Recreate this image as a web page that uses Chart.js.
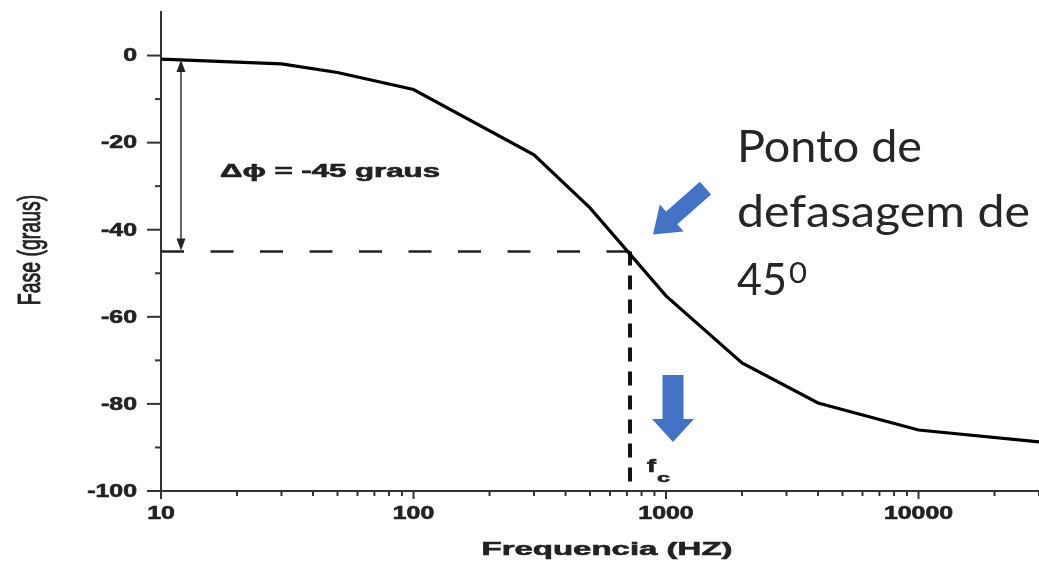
<!DOCTYPE html>
<html>
<head>
<meta charset="utf-8">
<script src="https://cdn.jsdelivr.net/npm/chart.js@4"></script>
<style>
  html, body { margin: 0; padding: 0; background: #fff; }
  canvas { display: block; }
</style>
</head>
<body>
<canvas id="phaseChart" width="1039" height="563"></canvas>
<script>
// phase response
var freqHz   = [10, 30, 50, 100, 300, 500, 1000, 2000, 4000, 10000, 30000];
var phaseDeg = [-0.8, -1.9, -3.9, -7.8, -22.8, -35, -55.2, -70.6, -79.8, -86, -88.7];

var cutoffHz = 720;
var cutoffPhase = -45;

var yTickLabels = [0, -20, -40, -60, -80, -100];
var xTickLabels = [10, 100, 1000, 10000];

var curvePoints = freqHz.map(function (f, i) { return { x: f, y: phaseDeg[i] }; });

// the original picture is stretched sideways, so text gets a horizontal scale
function stretchedText(ctx, text, x, y, font, sx, align, baseline, heavy) {
    ctx.save();
    ctx.font = font;
    ctx.textAlign = align || 'left';
    ctx.textBaseline = baseline || 'alphabetic';
    ctx.translate(x, y);
    ctx.scale(sx, 1);
    ctx.fillText(text, 0, 0);
    if (heavy) {
        ctx.strokeStyle = ctx.fillStyle;
        ctx.lineWidth = heavy;
        ctx.strokeText(text, 0, 0);
    }
    ctx.restore();
}

function fitText(ctx, text, x, y, font, width, align, baseline, heavy) {
    ctx.save();
    ctx.font = font;
    var w = ctx.measureText(text).width;
    ctx.restore();
    stretchedText(ctx, text, x, y, font, width / w, align, baseline, heavy);
}

function blockArrow(ctx, tipX, tipY, angle, len, shaftW, headW, headL) {
    ctx.save();
    ctx.translate(tipX, tipY);
    ctx.rotate(angle);
    ctx.beginPath();
    ctx.moveTo(0, 0);
    ctx.lineTo(-headL, -headW / 2);
    ctx.lineTo(-headL, -shaftW / 2);
    ctx.lineTo(-len, -shaftW / 2);
    ctx.lineTo(-len, shaftW / 2);
    ctx.lineTo(-headL, shaftW / 2);
    ctx.lineTo(-headL, headW / 2);
    ctx.closePath();
    ctx.fillStyle = '#4472c4';
    ctx.fill();
    ctx.restore();
}

var tickFont = 'bold 17.5px "Liberation Sans", Arial, sans-serif';

var overlay = {
    id: 'overlay',
    afterDraw: function (chart) {
        var ctx = chart.ctx;
        var xs = chart.scales.x, ys = chart.scales.y;
        var area = chart.chartArea;
        ctx.save();
        ctx.strokeStyle = '#333';
        ctx.fillStyle = '#222';
        ctx.lineWidth = 2;

        // y ticks and labels
        ys.ticks.forEach(function (t) {
            if (t.value >= ys.max) return;
            var py = ys.getPixelForValue(t.value);
            var major = yTickLabels.indexOf(t.value) >= 0;
            ctx.beginPath();
            ctx.moveTo(area.left - (major ? 14 : 6), py);
            ctx.lineTo(area.left, py);
            ctx.stroke();
            if (major) {
                stretchedText(ctx, String(t.value), area.left - 24, py + 1, tickFont, 1.42, 'right', 'middle', 0.6);
            }
        });

        // x ticks and labels
        xs.ticks.forEach(function (t) {
            var px = xs.getPixelForValue(t.value);
            if (px > area.right + 1) return;
            var major = xTickLabels.indexOf(t.value) >= 0;
            ctx.beginPath();
            ctx.moveTo(px, area.bottom);
            ctx.lineTo(px, area.bottom + (major ? 8 : 5));
            ctx.stroke();
            if (major) {
                stretchedText(ctx, String(t.value), px, area.bottom + 23, tickFont, 1.42, 'center', 'middle', 0.6);
            }
        });

        // axis titles
        fitText(ctx, 'Frequencia (HZ)', 607, 555, 'bold 18.5px "Liberation Sans", Arial, sans-serif', 251, 'center', 'alphabetic', 0.6);
        ctx.save();
        ctx.translate(31, 250);
        ctx.scale(1.6, 1);
        ctx.rotate(-Math.PI / 2);
        ctx.font = '19.5px "Liberation Sans", Arial, sans-serif';
        ctx.textAlign = 'center';
        ctx.textBaseline = 'middle';
        ctx.fillText('Fase (graus)', 0, 0);
        ctx.strokeStyle = '#222';
        ctx.lineWidth = 0.6;
        ctx.strokeText('Fase (graus)', 0, 0);
        ctx.restore();

        // double-headed arrow showing the 45 degree drop
        var ax = xs.getPixelForValue(12);
        var aTop = ys.getPixelForValue(phaseDeg[0]);
        var aBot = ys.getPixelForValue(cutoffPhase);
        ctx.lineWidth = 1.5;
        ctx.beginPath();
        ctx.moveTo(ax, aTop + 8);
        ctx.lineTo(ax, aBot - 8);
        ctx.stroke();
        ctx.beginPath();
        ctx.moveTo(ax, aTop + 1);
        ctx.lineTo(ax - 4.5, aTop + 13);
        ctx.lineTo(ax + 4.5, aTop + 13);
        ctx.closePath();
        ctx.fill();
        ctx.beginPath();
        ctx.moveTo(ax, aBot - 1);
        ctx.lineTo(ax - 4.5, aBot - 13);
        ctx.lineTo(ax + 4.5, aBot - 13);
        ctx.closePath();
        ctx.fill();

        fitText(ctx, 'Δϕ = -45 graus', 220, 177, 'bold 17.5px "Liberation Sans", Arial, sans-serif', 220, 'left', 'alphabetic', 0.6);

        // f_c label
        var cx = xs.getPixelForValue(cutoffHz);
        var cy = ys.getPixelForValue(cutoffPhase);
        stretchedText(ctx, 'f', cx + 17, 472, 'bold 18px "Liberation Sans", Arial, sans-serif', 1.5, 'left', 'alphabetic', 0.6);
        stretchedText(ctx, 'c', cx + 27, 482, 'bold 13px "Liberation Sans", Arial, sans-serif', 1.8, 'left', 'alphabetic', 0.6);

        // blue arrows
        blockArrow(ctx, cx + 23, cy - 17, Math.atan2(45, -51), 70, 17, 36, 25);
        blockArrow(ctx, cx + 43, area.bottom - 49, Math.PI / 2, 67, 21, 42, 23);

        // callout text
        ctx.fillStyle = '#262626';
        fitText(ctx, 'Ponto de', 737, 162, '44px Lato, "Open Sans", sans-serif', 185, 'left', 'alphabetic');
        fitText(ctx, 'defasagem de', 737, 227, '44px Lato, "Open Sans", sans-serif', 293, 'left', 'alphabetic');
        fitText(ctx, '45', 737, 295, '44px Lato, "Open Sans", sans-serif', 50, 'left', 'alphabetic');
        fitText(ctx, '0', 789, 283, '28px Lato, "Open Sans", sans-serif', 18, 'left', 'alphabetic');

        ctx.restore();
    }
};

var ctxPhase = document.getElementById('phaseChart').getContext('2d');
var phaseChart = new Chart(ctxPhase, {
    type: 'line',
    data: {
        datasets: [{
            label: 'Fase',
            data: curvePoints,
            borderColor: '#000',
            borderWidth: 3.2,
            pointRadius: 0,
            tension: 0
        }, {
            label: 'Fase -45',
            data: [{ x: freqHz[0], y: cutoffPhase }, { x: cutoffHz, y: cutoffPhase }],
            borderColor: '#222',
            borderWidth: 2.5,
            borderDash: [23, 26.5],
            pointRadius: 0
        }, {
            label: 'fc',
            data: [{ x: cutoffHz, y: cutoffPhase }, { x: cutoffHz, y: -100 }],
            borderColor: '#111',
            borderWidth: 4,
            borderDash: [14, 10],
            pointRadius: 0
        }]
    },
    options: {
        responsive: false,
        animation: false,
        devicePixelRatio: 1,
        layout: { padding: { top: 12, left: 0, right: 0, bottom: 0 } },
        plugins: {
            legend: { display: false },
            tooltip: { enabled: false }
        },
        scales: {
            x: {
                type: 'logarithmic',
                min: 10,
                max: 30000,
                grid: { display: false, drawTicks: false },
                border: { display: true, color: '#333', width: 2 },
                ticks: { display: false, autoSkip: false },
                afterBuildTicks: function (scale) {
                    var ticks = [];
                    for (var d = 10; d <= scale.max; d *= 10) {
                        for (var m = 1; m <= 9; m++) {
                            if (m * d <= scale.max) ticks.push({ value: m * d });
                        }
                    }
                    scale.ticks = ticks;
                },
                afterFit: function (scale) { scale.height = 72; }
            },
            y: {
                min: -100,
                max: 10,
                grid: { display: false, drawTicks: false },
                border: { display: true, color: '#333', width: 2 },
                ticks: { display: false, stepSize: 10 },
                afterFit: function (scale) { scale.width = 161; }
            }
        }
    },
    plugins: [overlay]
});
</script>
</body>
</html>
